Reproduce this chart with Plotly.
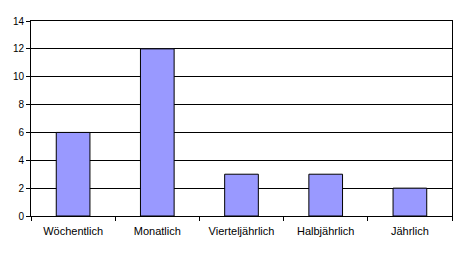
import plotly.graph_objects as go

categories = ["Wöchentlich", "Monatlich", "Vierteljährlich", "Halbjährlich", "Jährlich"]
values = [6, 12, 3, 3, 2]
y_ticks = [0, 2, 4, 6, 8, 10, 12, 14]

fig = go.Figure(go.Bar(
    x=categories, y=values,
    marker=dict(color="#9999FF", line=dict(color="black", width=1)),
))
fig.update_layout(
    width=464, height=254,
    margin=dict(l=31, r=12, t=21, b=38),
    paper_bgcolor="white", plot_bgcolor="white",
    bargap=0.6,
    showlegend=False,
    font=dict(family="Liberation Sans, Arial", size=11, color="black"),
)
fig.update_xaxes(
    showline=True, linecolor="black", linewidth=1, mirror=True,
    ticks="outside", tickson="boundaries", ticklen=4, tickcolor="black",
    showgrid=False, ticklabelstandoff=5,
)
fig.update_yaxes(
    range=[0, 14], tickvals=y_ticks,
    showline=True, linecolor="black", linewidth=1, mirror=True,
    ticks="outside", ticklen=4, tickcolor="black",
    showgrid=True, gridcolor="black", gridwidth=1,
    tickfont=dict(size=10), zeroline=False,
)
fig.write_html("out.html")
